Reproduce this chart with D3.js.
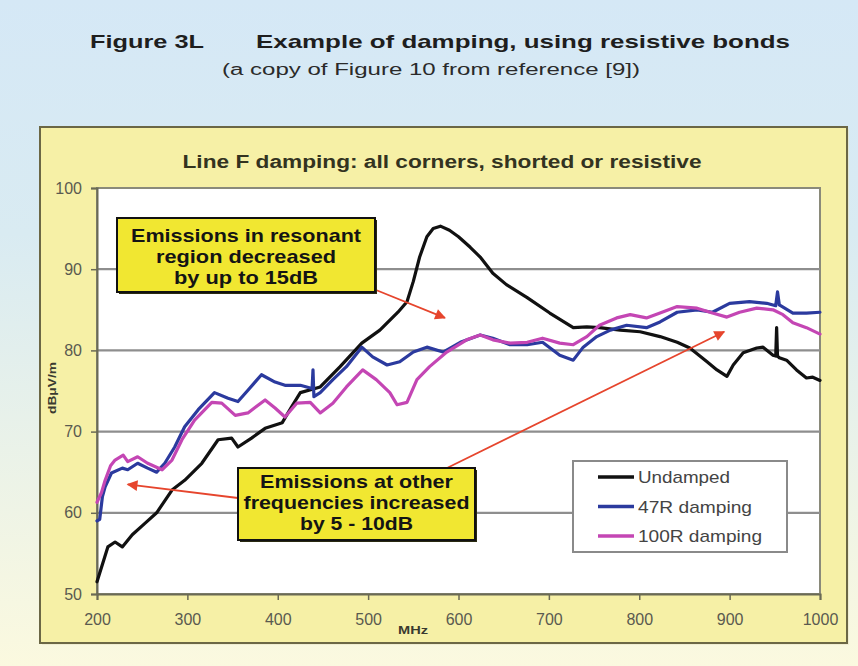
<!DOCTYPE html>
<html>
<head>
<meta charset="utf-8">
<script src="https://cdn.jsdelivr.net/npm/d3@7"></script>
<style>
  html, body { margin: 0; padding: 0; }
  body { width: 858px; height: 666px; overflow: hidden; }
  svg { display: block; font-family: "Liberation Sans", Arial, sans-serif; }
</style>
</head>
<body>
<svg id="chart" width="858" height="666"></svg>
<script>
// ---------------- DATA ----------------
const headerTitle = "Figure 3L";
const headerText = "Example of damping, using resistive bonds";
const headerSub = "(a copy of Figure 10 from reference [9])";
const chartTitle = "Line F damping: all corners, shorted or resistive";
const yAxisLabel = "dBμV/m";
const xAxisLabel = "MHz";
const xTicks = [200, 300, 400, 500, 600, 700, 800, 900, 1000];
const yTicks = [50, 60, 70, 80, 90, 100];
const seriesNames = ["Undamped", "47R damping", "100R damping"];
const seriesColors = ["#111111", "#2b3a9e", "#c446b4"];

const undampedMHz = [200,212,220,228,239,253,266,283,297,316,334,349,356,371,386,405,415,425,447,469,493,513,533,543,550,557,565,572,580,590,600,613,624,638,653,676,701,727,742,756,779,801,823,842,856,875,886,897,904,915,930,937,948,951,952,953,955,963,974,985,992,1000];
const undampedDB  = [51.5,55.8,56.4,55.8,57.3,58.7,60.0,62.8,64.0,66.1,69.0,69.2,68.1,69.2,70.4,71.1,73.0,74.8,75.5,78.0,80.9,82.5,84.7,86.0,88.5,91.5,94.0,95.0,95.3,94.8,94.0,92.7,91.5,89.5,88.1,86.5,84.6,82.8,82.9,82.8,82.5,82.3,81.7,81.0,80.3,78.6,77.6,76.8,78.2,79.7,80.3,80.4,79.4,79.3,82.8,79.3,79.1,78.8,77.6,76.6,76.7,76.3];

const r47MHz = [200,203,206,209,216,228,234,245,256,266,275,286,297,312,330,345,356,367,382,397,408,425,438,439,440,447,461,476,493,505,521,535,550,565,583,602,624,638,657,676,693,712,727,738,753,768,786,808,823,842,864,881,900,922,941,951,953,955,970,985,1000];
const r47DB  = [59.0,59.2,62.0,63.2,64.9,65.5,65.3,66.1,65.5,65.0,66.1,68.1,70.6,72.7,74.8,74.1,73.7,75.1,77.0,76.1,75.7,75.7,75.3,77.6,74.3,74.8,76.4,78.0,80.4,79.2,78.2,78.6,79.8,80.4,79.8,81.0,81.9,81.5,80.7,80.7,81.0,79.4,78.8,80.4,81.7,82.5,83.1,82.8,83.5,84.7,85.0,84.7,85.8,86.0,85.8,85.5,87.2,85.6,84.6,84.6,84.7];

const r100MHz = [200,205,209,215,220,229,234,245,256,272,283,294,308,327,338,353,367,386,397,408,421,436,447,461,476,494,509,524,532,543,554,568,587,609,624,638,657,676,693,712,727,742,756,775,790,808,823,842,864,881,897,911,930,948,959,970,985,1000];
const r100DB  = [61.3,62.5,64.0,65.8,66.5,67.1,66.3,66.9,66.1,65.3,66.5,69.0,71.4,73.6,73.5,72.0,72.3,73.9,72.9,71.8,73.5,73.6,72.3,73.5,75.5,77.6,76.4,74.8,73.3,73.6,76.4,78.0,79.8,81.3,81.9,81.3,80.9,81.0,81.5,80.9,80.7,81.7,83.1,84.0,84.4,84.0,84.6,85.4,85.2,84.6,84.1,84.7,85.2,85.0,84.4,83.4,82.8,82.0];

const note1Lines = ["Emissions in resonant", "region decreased", "by up to 15dB"];
const note2Lines = ["Emissions at other", "frequencies increased", "by 5 - 10dB"];
// arrow tips in data units (MHz, dB)
const note1Tip = [585, 84.0];
const note2Tips = [[234, 63.5], [894, 82.3]];

// ---------------- LAYOUT ----------------
const svg = d3.select("#chart");
const W = 858, H = 666;
const plot = { left: 97, right: 820, top: 188, bottom: 594 };

const defs = svg.append("defs");
const bg = defs.append("linearGradient").attr("id", "bg").attr("x1", 0).attr("y1", 0).attr("x2", 0).attr("y2", 1);
bg.append("stop").attr("offset", "0%").attr("stop-color", "#d5e8f6");
bg.append("stop").attr("offset", "35%").attr("stop-color", "#d9ebf2");
bg.append("stop").attr("offset", "100%").attr("stop-color", "#fbf9df");
svg.append("rect").attr("width", W).attr("height", H).attr("fill", "url(#bg)");

defs.append("marker").attr("id", "arrow")
  .attr("viewBox", "0 0 10 10").attr("refX", 9).attr("refY", 5)
  .attr("markerWidth", 7).attr("markerHeight", 6).attr("markerUnits", "strokeWidth")
  .attr("orient", "auto")
  .append("path").attr("d", "M0,0 L10,5 L0,10 z").attr("fill", "#e6452d");

// Header
svg.append("text").attr("x", 90).attr("y", 48)
  .attr("font-size", 19).attr("font-weight", "bold").attr("fill", "#1e1e1e")
  .attr("textLength", 114).attr("lengthAdjust", "spacingAndGlyphs")
  .text(headerTitle);
svg.append("text").attr("x", 256).attr("y", 48)
  .attr("font-size", 19).attr("font-weight", "bold").attr("fill", "#1e1e1e")
  .attr("textLength", 534).attr("lengthAdjust", "spacingAndGlyphs")
  .text(headerText);
svg.append("text").attr("x", 222).attr("y", 75)
  .attr("font-size", 16).attr("fill", "#2a2a2a")
  .attr("textLength", 418).attr("lengthAdjust", "spacingAndGlyphs")
  .text(headerSub);

// Chart frame
svg.append("rect").attr("x", 42).attr("y", 129).attr("width", 807).attr("height", 516)
  .attr("fill", "#e9e6c8").attr("opacity", 0.6);
svg.append("rect").attr("x", 40).attr("y", 127).attr("width", 807).attr("height", 516)
  .attr("fill", "#f6f0a6").attr("stroke", "#6b6745").attr("stroke-width", 2);

svg.append("text").attr("x", 442).attr("y", 168).attr("text-anchor", "middle")
  .attr("font-size", 18).attr("font-weight", "bold").attr("fill", "#33331f")
  .attr("textLength", 519).attr("lengthAdjust", "spacingAndGlyphs")
  .text(chartTitle);

// Plot area
svg.append("rect").attr("x", plot.left).attr("y", plot.top)
  .attr("width", plot.right - plot.left).attr("height", plot.bottom - plot.top)
  .attr("fill", "#ffffff").attr("stroke", "#8a8a7a").attr("stroke-width", 2);

const x = d3.scaleLinear().domain([200, 1000]).range([plot.left, plot.right]);
const y = d3.scaleLinear().domain([50, 100]).range([plot.bottom, plot.top]);

// grid
svg.append("g").selectAll("line").data(yTicks.filter(t => t > 50 && t < 100)).join("line")
  .attr("x1", plot.left).attr("x2", plot.right)
  .attr("y1", d => y(d)).attr("y2", d => y(d))
  .attr("stroke", "#8e8e8e").attr("stroke-width", 2.2);

// axes
const xAxis = svg.append("g").attr("transform", `translate(0,${plot.bottom})`)
  .call(d3.axisBottom(x).tickValues(xTicks).tickSize(6).tickPadding(10).tickFormat(d3.format("d")));
const yAxis = svg.append("g").attr("transform", `translate(${plot.left},0)`)
  .call(d3.axisLeft(y).tickValues(yTicks).tickSize(6).tickPadding(9).tickFormat(d3.format("d")));
[xAxis, yAxis].forEach(g => {
  g.select(".domain").attr("stroke", "#6a6a55").attr("stroke-width", 2);
  g.selectAll(".tick line").attr("stroke", "#6a6a55").attr("stroke-width", 1.5);
  g.selectAll(".tick text").attr("fill", "#5a5a50").attr("font-size", 16)
    .attr("font-family", "Liberation Sans, Arial, sans-serif");
});
xAxis.selectAll(".tick text").attr("dy", "0.95em");

svg.append("text").attr("transform", `translate(56,388) rotate(-90)`)
  .attr("text-anchor", "middle").attr("font-size", 11).attr("font-weight", "bold").attr("fill", "#3a3a30")
  .attr("textLength", 52).attr("lengthAdjust", "spacingAndGlyphs")
  .text(yAxisLabel);
svg.append("text").attr("x", 413).attr("y", 634).attr("text-anchor", "middle")
  .attr("font-size", 11).attr("font-weight", "bold").attr("fill", "#3a3a30")
  .attr("textLength", 30).attr("lengthAdjust", "spacingAndGlyphs")
  .text(xAxisLabel);

// series
const series = [
  { name: seriesNames[0], color: seriesColors[0], pts: undampedMHz.map((f, i) => [f, undampedDB[i]]) },
  { name: seriesNames[1], color: seriesColors[1], pts: r47MHz.map((f, i) => [f, r47DB[i]]) },
  { name: seriesNames[2], color: seriesColors[2], pts: r100MHz.map((f, i) => [f, r100DB[i]]) }
];
const line = d3.line().x(d => x(d[0])).y(d => y(d[1])).curve(d3.curveLinear);
svg.append("g").selectAll("path").data(series).join("path")
  .attr("d", d => line(d.pts)).attr("fill", "none")
  .attr("stroke", d => d.color).attr("stroke-width", 3.2)
  .attr("stroke-linejoin", "round").attr("stroke-linecap", "round");

// legend
const lg = svg.append("g");
lg.append("rect").attr("x", 573).attr("y", 461).attr("width", 214).attr("height", 91)
  .attr("fill", "#ffffff").attr("stroke", "#8a8a8a").attr("stroke-width", 2);
const legendW = [92, 114, 124];
series.forEach((s, i) => {
  const ly = 477 + i * 29.5;
  lg.append("line").attr("x1", 598).attr("x2", 634).attr("y1", ly).attr("y2", ly)
    .attr("stroke", s.color).attr("stroke-width", 3.5);
  lg.append("text").attr("x", 638).attr("y", ly + 6).attr("font-size", 17).attr("fill", "#444")
    .attr("textLength", legendW[i]).attr("lengthAdjust", "spacingAndGlyphs")
    .text(s.name);
});

// annotations
function noteBox(x0, y0, w, h, lines, widths, baselines) {
  const g = svg.append("g");
  g.append("rect").attr("x", x0 + 2).attr("y", y0 + 2).attr("width", w).attr("height", h).attr("fill", "#2a2a10");
  g.append("rect").attr("x", x0).attr("y", y0).attr("width", w).attr("height", h)
    .attr("fill", "#f1e731").attr("stroke", "#111").attr("stroke-width", 2);
  lines.forEach((t, i) => {
    g.append("text").attr("x", x0 + w / 2).attr("y", baselines[i]).attr("text-anchor", "middle")
      .attr("font-size", 19).attr("font-weight", "bold").attr("fill", "#141414")
      .attr("textLength", widths[i]).attr("lengthAdjust", "spacingAndGlyphs")
      .text(t);
  });
}
function arrow(x1, y1, x2, y2) {
  svg.append("line").attr("x1", x1).attr("y1", y1).attr("x2", x2).attr("y2", y2)
    .attr("stroke", "#e6452d").attr("stroke-width", 1.8).attr("marker-end", "url(#arrow)");
}
arrow(376, 290, x(note1Tip[0]), y(note1Tip[1]));
arrow(238, 498, x(note2Tips[0][0]), y(note2Tips[0][1]));
arrow(447, 468, x(note2Tips[1][0]), y(note2Tips[1][1]));
noteBox(117, 218, 258, 74, note1Lines, [230, 180, 144], [242, 263, 284]);
noteBox(238, 468, 237, 72, note2Lines, [193, 226, 113], [488, 509, 530]);
</script>
</body>
</html>
